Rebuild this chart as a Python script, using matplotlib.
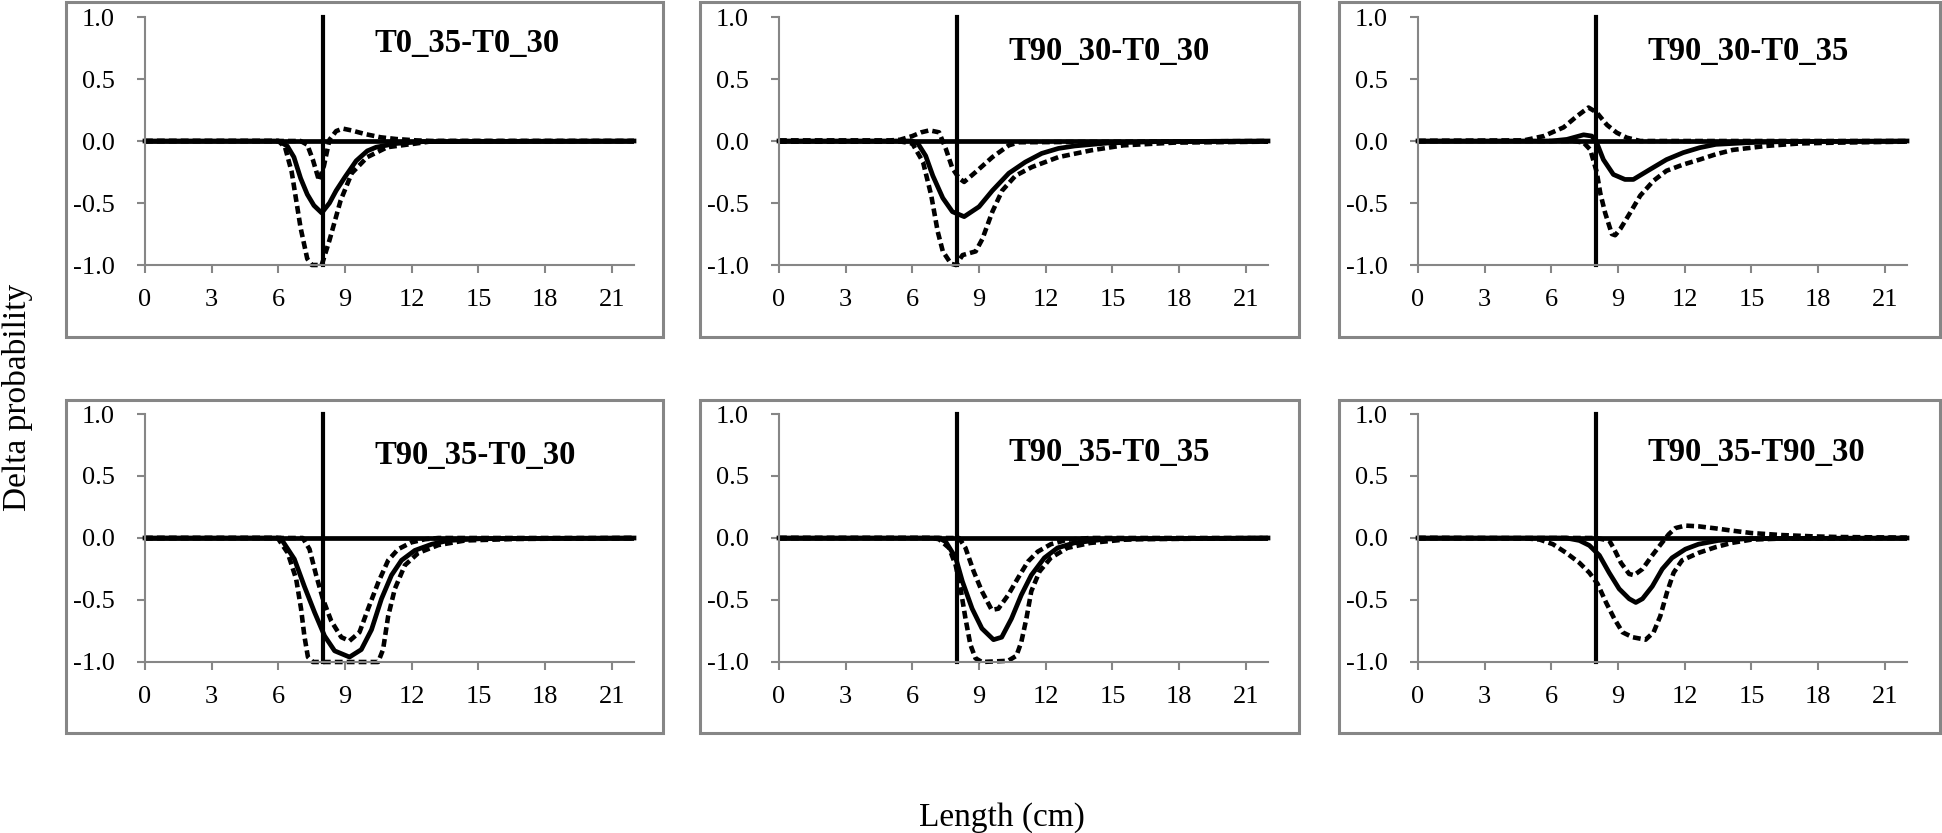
import matplotlib
matplotlib.use("Agg")
import matplotlib.pyplot as plt
from matplotlib.patches import Rectangle
from matplotlib.ticker import FormatStrFormatter

plt.rcParams['font.family'] = ['Liberation Serif', 'DejaVu Serif']
plt.rcParams['axes.unicode_minus'] = False

# panel titles
titles = ["T0_35-T0_30", "T90_30-T0_30", "T90_30-T0_35",
          "T90_35-T0_30", "T90_35-T0_35", "T90_35-T90_30"]
ref_length = 8  # vertical reference line (cm)

# panel 1 : T0_35-T0_30
p1_mean_x = [0, 6.0, 6.4, 6.7, 7.0, 7.3, 7.6, 7.95, 8.3, 8.6, 9.0, 9.5, 10.0, 10.4, 11.3, 12.5, 22]
p1_mean_y = [0, 0, -0.04, -0.13, -0.30, -0.43, -0.52, -0.58, -0.50, -0.40, -0.29, -0.16, -0.08, -0.05, -0.02, -0.005, 0]
p1_low_x = [0, 6.0, 6.3, 6.6, 7.0, 7.3, 7.5, 7.7, 7.95, 8.3, 8.8, 9.3, 10.0, 10.9, 12.2, 13.0, 22]
p1_low_y = [0, 0, -0.05, -0.25, -0.70, -0.95, -1.0, -1.0, -1.0, -0.80, -0.48, -0.26, -0.13, -0.05, -0.02, 0, 0]
p1_up_x = [0, 7.0, 7.3, 7.55, 7.83, 8.05, 8.3, 8.6, 8.9, 9.3, 9.9, 10.6, 11.3, 12.2, 13.0, 22]
p1_up_y = [0, 0, -0.03, -0.15, -0.32, -0.20, 0.01, 0.08, 0.10, 0.085, 0.056, 0.03, 0.016, 0.005, 0, 0]

# panel 2 : T90_30-T0_30
p2_mean_x = [0, 6.0, 6.25, 6.6, 6.92, 7.37, 7.8, 8.33, 9.0, 9.6, 10.34, 11.08, 11.82, 12.57, 13.3, 14.8, 17.0, 22]
p2_mean_y = [0, 0, -0.02, -0.12, -0.28, -0.46, -0.57, -0.61, -0.53, -0.40, -0.26, -0.17, -0.10, -0.06, -0.04, -0.016, -0.005, 0]
p2_low_x = [0, 5.5, 6.0, 6.48, 6.85, 7.14, 7.37, 7.74, 7.96, 8.26, 8.85, 9.15, 9.6, 10.04, 10.64, 11.38, 12.57, 14.05, 15.5, 17.8, 22]
p2_low_y = [-0.005, -0.005, -0.02, -0.17, -0.44, -0.73, -0.89, -0.99, -1.0, -0.92, -0.89, -0.79, -0.57, -0.40, -0.28, -0.21, -0.13, -0.075, -0.035, -0.013, -0.005]
p2_up_x = [0, 5.0, 5.44, 6.0, 6.4, 6.77, 7.2, 7.5, 7.8, 8.1, 8.33, 8.85, 9.6, 10.34, 10.8, 22]
p2_up_y = [0.005, 0.005, 0.01, 0.04, 0.07, 0.086, 0.07, -0.06, -0.22, -0.30, -0.33, -0.25, -0.13, -0.035, -0.01, 0.0]

# panel 3 : T90_30-T0_35
p3_mean_x = [0, 6.0, 6.7, 7.45, 7.82, 8.04, 8.34, 8.79, 9.31, 9.69, 10.43, 11.18, 11.93, 12.67, 13.4, 14.9, 16.4, 22]
p3_mean_y = [0, 0, 0.013, 0.05, 0.04, -0.013, -0.15, -0.27, -0.31, -0.31, -0.23, -0.15, -0.094, -0.054, -0.027, -0.013, -0.005, 0]
p3_low_x = [0, 7.0, 7.45, 7.75, 8.04, 8.2, 8.42, 8.72, 8.87, 9.1, 9.54, 10.0, 10.6, 11.18, 11.93, 12.67, 13.4, 14.16, 15.66, 17.15, 18.9, 22]
p3_low_y = [0, 0, -0.013, -0.07, -0.25, -0.42, -0.58, -0.75, -0.76, -0.71, -0.58, -0.44, -0.32, -0.24, -0.19, -0.15, -0.107, -0.072, -0.04, -0.02, -0.013, -0.005]
p3_up_x = [0, 4.76, 5.66, 6.55, 7.15, 7.67, 8.04, 8.5, 8.94, 9.39, 10.0, 22]
p3_up_y = [0, 0.005, 0.04, 0.11, 0.20, 0.27, 0.23, 0.13, 0.067, 0.027, 0.0, 0.0]

# panel 4 : T90_35-T0_30
p4_mean_x = [0, 6.1, 6.72, 7.17, 7.63, 8.08, 8.53, 9.2, 9.73, 10.19, 10.64, 11.09, 11.54, 12.14, 12.9, 13.65, 15.16, 22]
p4_mean_y = [0, 0, -0.17, -0.39, -0.60, -0.79, -0.91, -0.96, -0.90, -0.74, -0.49, -0.30, -0.18, -0.10, -0.05, -0.02, -0.005, 0]
p4_low_x = [0, 5.97, 6.42, 6.8, 7.02, 7.17, 7.33, 7.55, 8.38, 10.49, 10.71, 10.94, 11.24, 11.69, 12.3, 13.2, 14.4, 16.66, 22]
p4_low_y = [0, 0, -0.12, -0.33, -0.57, -0.79, -0.96, -1.0, -1.0, -1.0, -0.90, -0.63, -0.41, -0.22, -0.12, -0.057, -0.02, -0.008, 0]
p4_up_x = [0, 7.1, 7.4, 7.7, 8.0, 8.38, 8.83, 9.2, 9.65, 10.04, 10.49, 10.94, 11.39, 11.99, 12.6, 13.2, 22]
p4_up_y = [0, 0, -0.09, -0.30, -0.49, -0.67, -0.80, -0.83, -0.76, -0.57, -0.36, -0.18, -0.09, -0.035, -0.01, 0, 0]

# panel 5 : T90_35-T0_35
p5_mean_x = [0, 7.2, 7.5, 7.95, 8.25, 8.69, 9.13, 9.65, 10.02, 10.46, 10.9, 11.35, 11.94, 12.53, 13.27, 14.74, 22]
p5_mean_y = [0, 0, -0.03, -0.16, -0.35, -0.57, -0.73, -0.82, -0.80, -0.65, -0.46, -0.30, -0.16, -0.08, -0.04, -0.008, 0]
p5_low_x = [0, 6.9, 7.2, 7.65, 7.95, 8.17, 8.39, 8.61, 8.84, 9.13, 10.31, 10.68, 10.9, 11.13, 11.35, 11.72, 12.23, 12.97, 14.0, 15.5, 16.2, 22]
p5_low_y = [0, 0, -0.01, -0.08, -0.22, -0.41, -0.65, -0.86, -0.97, -1.0, -0.99, -0.95, -0.84, -0.65, -0.43, -0.27, -0.16, -0.08, -0.04, -0.014, -0.01, 0]
p5_up_x = [0, 8.1, 8.39, 8.76, 9.13, 9.57, 9.87, 10.31, 10.76, 11.2, 11.64, 12.23, 12.97, 14.0, 22]
p5_up_y = [0, 0, -0.08, -0.27, -0.43, -0.58, -0.57, -0.46, -0.32, -0.19, -0.11, -0.05, -0.014, 0, 0]

# panel 6 : T90_35-T90_30
p6_mean_x = [0, 6.67, 7.26, 7.71, 8.16, 8.6, 9.05, 9.5, 9.8, 10.1, 10.54, 10.99, 11.43, 12.03, 12.62, 13.5, 14.85, 22]
p6_mean_y = [0, 0, -0.02, -0.06, -0.14, -0.28, -0.41, -0.49, -0.52, -0.49, -0.39, -0.25, -0.16, -0.09, -0.05, -0.02, -0.005, 0]
p6_low_x = [0, 4.88, 5.48, 6.07, 6.67, 7.26, 7.71, 8.08, 8.46, 8.83, 9.2, 9.65, 10.24, 10.6, 10.9, 11.2, 11.5, 11.88, 12.62, 13.37, 14.1, 15.0, 16.3, 22]
p6_low_y = [0, -0.003, -0.013, -0.05, -0.12, -0.20, -0.28, -0.37, -0.52, -0.65, -0.76, -0.80, -0.82, -0.76, -0.63, -0.44, -0.28, -0.18, -0.12, -0.075, -0.04, -0.013, -0.005, 0]
p6_up_x = [0, 8.0, 8.6, 8.83, 9.13, 9.5, 9.72, 10.1, 10.54, 10.99, 11.28, 11.58, 12.03, 12.62, 13.37, 14.1, 15.0, 16.34, 17.8, 18.9, 22]
p6_up_y = [0, 0, -0.02, -0.09, -0.20, -0.29, -0.30, -0.25, -0.14, -0.035, 0.03, 0.08, 0.10, 0.094, 0.078, 0.06, 0.04, 0.024, 0.013, 0.008, 0.003]

panels = [
    (p1_low_x, p1_low_y, p1_mean_x, p1_mean_y, p1_up_x, p1_up_y),
    (p2_low_x, p2_low_y, p2_mean_x, p2_mean_y, p2_up_x, p2_up_y),
    (p3_low_x, p3_low_y, p3_mean_x, p3_mean_y, p3_up_x, p3_up_y),
    (p4_low_x, p4_low_y, p4_mean_x, p4_mean_y, p4_up_x, p4_up_y),
    (p5_low_x, p5_low_y, p5_mean_x, p5_mean_y, p5_up_x, p5_up_y),
    (p6_low_x, p6_low_y, p6_mean_x, p6_mean_y, p6_up_x, p6_up_y),
]

W, H = 1942, 833
fig = plt.figure(figsize=(W / 100, H / 100), dpi=100)

# layout in pixels (left of axes, top of axes) and the grey frames around each chart
axes_left = [145, 779, 1418]
axes_top = [17, 414]
box_cols = [(66, 663), (700, 1299), (1339, 1940)]
box_rows = [(2, 337), (400, 733)]
title_base = [0.718, 0.653, 0.653, 0.597, 0.621, 0.621]
grey = '#868686'
dash = (0, (1.7, 0.9))

for i in range(6):
    r, c = divmod(i, 3)
    bx0, bx1 = box_cols[c]
    by0, by1 = box_rows[r]
    fig.patches.append(Rectangle((bx0 / W, 1 - by1 / H), (bx1 - bx0) / W, (by1 - by0) / H,
                                 transform=fig.transFigure, fill=False, ec=grey, lw=2.2))

    ax = fig.add_axes([axes_left[c] / W, 1 - (axes_top[r] + 248) / H, 489 / W, 248 / H])
    lx, ly, mx, my, ux, uy = panels[i]
    ax.plot(lx, ly, color='black', lw=3.3, ls=dash, clip_on=False, dash_joinstyle='round')
    ax.plot(ux, uy, color='black', lw=3.3, ls=dash, clip_on=False, dash_joinstyle='round')
    ax.plot(mx, my, color='black', lw=3.4, clip_on=False, solid_joinstyle='round')
    ax.plot([0, 22], [0, 0], color='black', lw=3.4)
    ax.plot([ref_length, ref_length], [-1, 1], color='black', lw=3.0, clip_on=False)

    ax.set_xlim(0, 22)
    ax.set_ylim(-1, 1)
    ax.set_xticks(range(0, 22, 3))
    ax.set_yticks([-1, -0.5, 0, 0.5, 1])
    ax.yaxis.set_major_formatter(FormatStrFormatter('%.1f'))
    for s in ['top', 'right']:
        ax.spines[s].set_visible(False)
    for s in ['left', 'bottom']:
        ax.spines[s].set_color(grey)
        ax.spines[s].set_linewidth(1.5)
    ax.tick_params(axis='both', direction='out', length=6, width=1.5, color=grey,
                   labelcolor='black', labelsize=19)
    ax.tick_params(axis='y', pad=16)
    ax.tick_params(axis='x', pad=11)

    ax.text(10.3, title_base[i], titles[i], fontsize=23.5, fontweight='bold',
            ha='left', va='baseline')

fig.text(0.0088, 0.523, 'Delta probability', rotation=90, fontsize=24, ha='center', va='center')
fig.text(0.516, 0.018, 'Length (cm)', fontsize=24, ha='center', va='center')

fig.savefig('out.png', dpi=100)
